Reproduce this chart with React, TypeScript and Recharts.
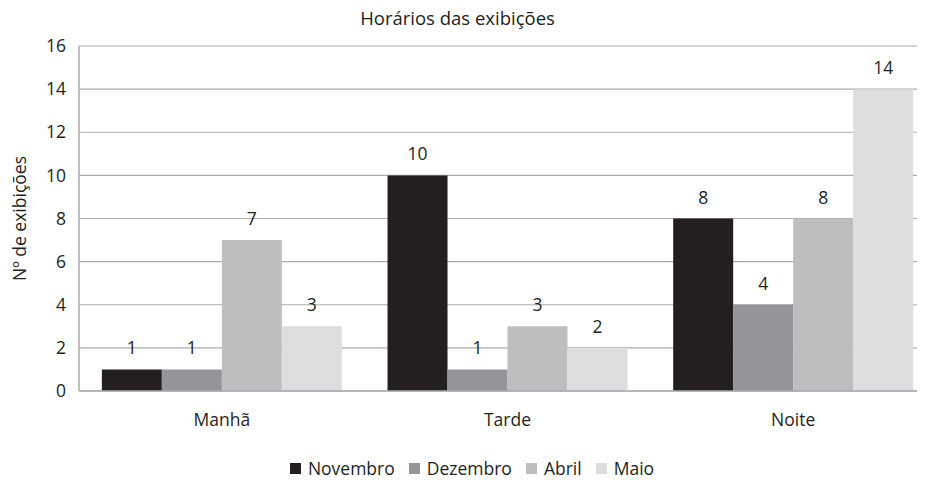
import React from 'react';
import { BarChart, Bar, XAxis, YAxis, CartesianGrid, Legend, LabelList } from 'recharts';

const categories = ['Manhã', 'Tarde', 'Noite'];
const novembro = [1, 10, 8];
const dezembro = [1, 1, 4];
const abril = [7, 3, 8];
const maio = [3, 2, 14];
const yTicks = [0, 2, 4, 6, 8, 10, 12, 14, 16];

const seriesNames = ['Novembro', 'Dezembro', 'Abril', 'Maio'];
const seriesKeys = ['novembro', 'dezembro', 'abril', 'maio'];
const seriesColors = ['#231f20', '#939598', '#bcbec0', '#dcddde'];

const data = categories.map((c, i) => ({
  name: c,
  novembro: novembro[i],
  dezembro: dezembro[i],
  abril: abril[i],
  maio: maio[i],
}));

const FONT = "'Open Sans', sans-serif";
const TEXT = '#231f20';
const GRID = '#a9abae';

const LegendContent = () => (
  <div
    style={{
      display: 'flex',
      justifyContent: 'center',
      alignItems: 'center',
      height: 24,
      fontFamily: FONT,
      fontSize: 17.5,
      color: TEXT,
      lineHeight: '20px',
    }}
  >
    {seriesNames.map((n, i) => (
      <div key={n} style={{ display: 'flex', alignItems: 'center', marginRight: i < 3 ? 14 : 0 }}>
        <span style={{ width: 11, height: 11, background: seriesColors[i], display: 'inline-block', marginRight: 7 }} />
        <span>{n}</span>
      </div>
    ))}
  </div>
);

export default function App() {
  return (
    <div style={{ position: 'relative', width: 917, height: 472 }}>
      <div style={{ width: 917, height: 472, overflow: 'hidden' }}>
        <BarChart
          width={930}
          height={472}
          data={data}
          margin={{ top: 38, right: 2, bottom: 0, left: 0 }}
          barCategoryGap="8%"
          barGap={0}
        >
          <CartesianGrid vertical={false} stroke={GRID} strokeWidth={1.2} />
          <XAxis
            dataKey="name"
            height={65}
            tickLine={false}
            tickSize={0}
            tickMargin={23}
            axisLine={{ stroke: GRID, strokeWidth: 1.5 }}
            tick={{ fill: TEXT, fontFamily: FONT, fontSize: 17.5 }}
          />
          <YAxis
            width={71}
            domain={[0, 16]}
            ticks={yTicks}
            interval={0}
            tickLine={false}
            tickSize={0}
            tickMargin={13}
            axisLine={{ stroke: GRID, strokeWidth: 1.5 }}
            tick={{ fill: TEXT, fontFamily: FONT, fontSize: 17.5 }}
            label={{
              value: 'Nº de exibições',
              angle: -90,
              position: 'insideLeft',
              offset: 12,
              style: { textAnchor: 'middle', fill: TEXT, fontFamily: FONT, fontSize: 17.5 },
            }}
          />
          <Legend verticalAlign="bottom" height={24} content={<LegendContent />} />
          {seriesKeys.map((k, i) => (
            <Bar key={k} dataKey={k} name={seriesNames[i]} fill={seriesColors[i]} isAnimationActive={false}>
              <LabelList
                dataKey={k}
                position="top"
                offset={15}
                style={{ fill: TEXT, fontFamily: FONT, fontSize: 17.5 }}
              />
            </Bar>
          ))}
        </BarChart>
      </div>
      <div
        style={{
          position: 'absolute',
          top: -4,
          left: 0,
          width: 899,
          textAlign: 'center',
          fontFamily: FONT,
          fontSize: 18.5,
          lineHeight: '28px',
          color: TEXT,
        }}
      >
        Horários das exibições
      </div>
    </div>
  );
}
